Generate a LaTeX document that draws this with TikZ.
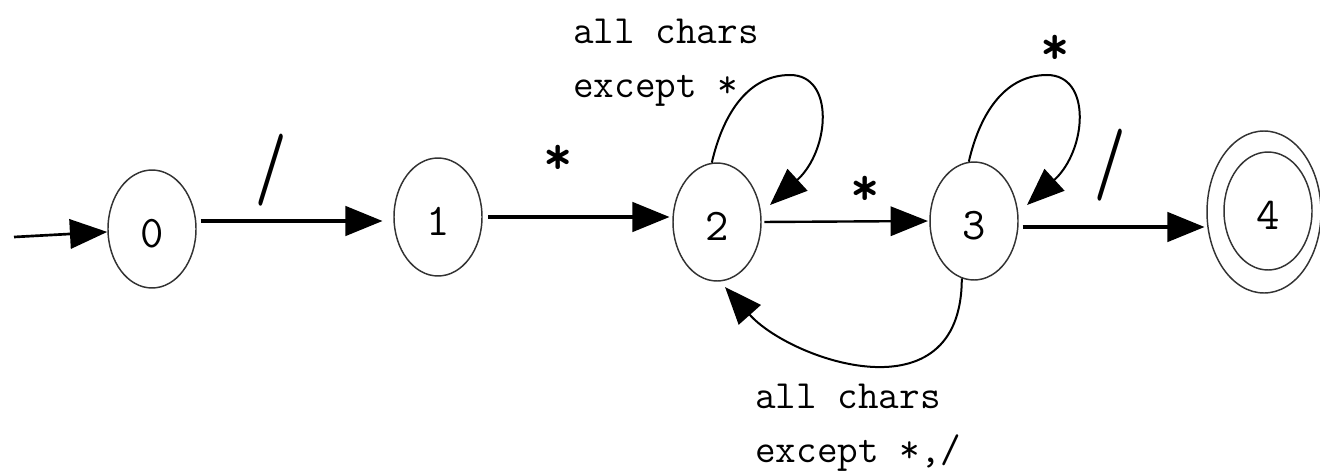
\documentclass[tikz,border=0pt]{standalone}
\usetikzlibrary{arrows.meta,shapes.geometric,calc}
\begin{document}
\begin{tikzpicture}[x=0.75pt,y=-0.75pt,
  state/.style={ellipse,draw=black!80,line width=1.1pt,minimum width=66pt,minimum height=88.5pt,inner sep=0pt,
    font=\ttfamily\fontsize{34}{34}\selectfont,text height=28.3pt,text depth=0pt},
  tip/.style={-{Triangle[length=28pt,width=22pt]}},
  thickarr/.style={tip,line width=3pt},
  thinarr/.style={tip,line width=1.8pt},
  loopline/.style={tip,line width=1.5pt},
  lbl/.style={font=\ttfamily\fontsize{30}{40.5}\selectfont,align=left,inner sep=0pt,anchor=north west},
  star/.style={font=\ttfamily\bfseries\fontsize{42}{42}\selectfont,inner sep=0pt},
  slash/.style={font=\ttfamily\fontsize{48}{48}\selectfont,inner sep=0pt}]
\useasboundingbox (0,0) rectangle (1320,474);

% states
\node[state] (n0) at (152,229) {0};
\node[state] (n1) at (438,217) {1};
\node[state] (n2) at (717,222) {2};
\node[state] (n3) at (974,221) {3};
\node[state] (n4) at (1268,211) {4};
\draw[black!80,line width=1.1pt] ($(n4)+(-4,1)$) ellipse [x radius=57, y radius=81];

% start arrow
\coordinate (start) at (14,237);
\draw[tip,line width=2pt] (start) -- ([yshift=-2.2pt]n0.west);

% straight transitions
\draw[thickarr,shorten <=3pt,shorten >=8pt] ([yshift=6pt]n0.east) -- ([yshift=-3pt]n1.west);
\draw[thickarr,shorten <=4pt,shorten >=2pt] (n1.east) -- ([yshift=3.75pt]n2.west);
\draw[thinarr,shorten <=2pt,shorten >=1pt] (n2.east) -- (n3.west);
\draw[thickarr,shorten <=3pt,shorten >=14pt] ([yshift=-4.5pt]n3.east) -- ([yshift=-12pt]n4.west);

% loops
\coordinate (t2) at ($(n2)+(73,-147)$);
\coordinate (e2) at ($(n2)+(53,-17)$);
\draw[loopline] (n2.95) .. controls +(12,-52) and +(-40,0) .. (t2) .. controls +(45,0) and +(60,-55) .. (e2);
\coordinate (t3) at ($(n3)+(73,-146)$);
\coordinate (e3) at ($(n3)+(53,-16)$);
\draw[loopline] (n3.95) .. controls +(12,-52) and +(-40,0) .. (t3) .. controls +(45,0) and +(60,-55) .. (e3);

% back arc 3 -> 2
\coordinate (e32) at ($(n2)+(8,65)$);
\draw[loopline] (n3.258) .. controls +(0,142) and +(65,73) .. (e32);

% labels
\node[slash] (l01) at (271,170) {\scalebox{0.95}[1.45]{/}};
\node[star] (l12) at (558,160) {*};
\node[star] (l23) at (865,191) {*};
\node[star] (l33) at (1055,50) {*};
\node[slash] (l34) at (1110,165) {\scalebox{0.95}[1.45]{/}};
\node[lbl] (l22) at (573,18.6) {all chars\\except *};
\node[lbl] (l32) at (755,384) {all chars\\except *,/};
\end{tikzpicture}
\end{document}
